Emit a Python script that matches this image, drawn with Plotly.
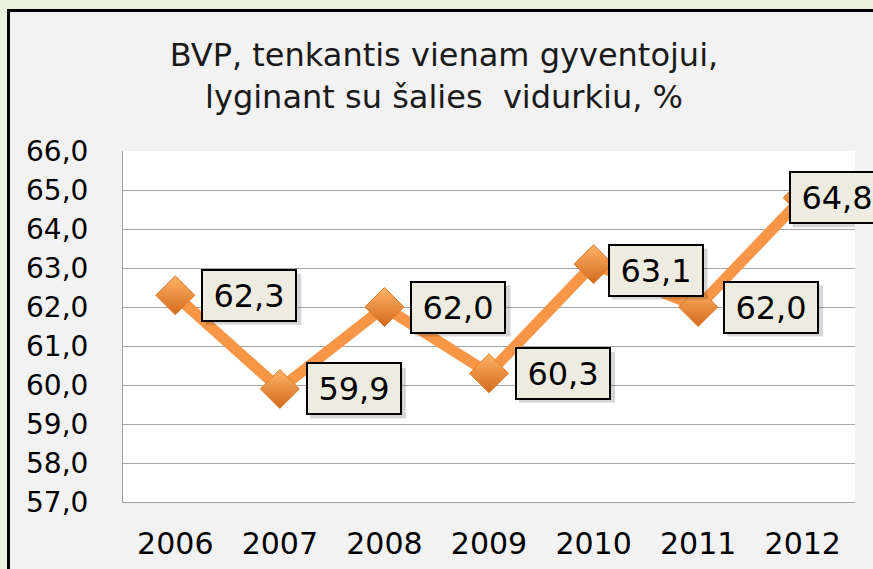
import plotly.graph_objects as go

# ---- data ----
years = ["2006", "2007", "2008", "2009", "2010", "2011", "2012"]
values = [62.3, 59.9, 62.0, 60.3, 63.1, 62.0, 64.8]
y_ticks = [57, 58, 59, 60, 61, 62, 63, 64, 65, 66]
title_lines = ["BVP, tenkantis vienam gyventojui,", "lyginant su šalies\u00a0 vidurkiu, %"]

# ---- layout geometry (pixels) ----
W, H = 873, 569
L, R, T, B = 123, 18, 151, 67
PW, PH = W - L - R, H - T - B


def px_x(x):
    return (x - L) / PW


def px_y(y):
    return 1 - (y - T) / PH


FONT = "DejaVu Sans"
ORANGE = "#F79646"

# label box offsets (style only)
label_dx = [26, 26, 26, 26, 14, 25, -14]
label_dy = [0, 0, 0, 0, -6, 0, 0]
BOX_W, BOX_H = 96, 51

xi = list(range(len(years)))

fig = go.Figure()
fig.add_trace(go.Scatter(
    x=xi, y=values, mode="lines+markers",
    line=dict(color=ORANGE, width=11),
    marker=dict(symbol="diamond", size=30, color="#FFB466",
                gradient=dict(type="vertical", color="#D2691E"),
                line=dict(color="#E07A22", width=1)),
    hoverinfo="skip", showlegend=False,
))

annotations = []
shapes = [
    # grey chart area with black frame
    dict(type="rect", xref="paper", yref="paper", layer="below",
         x0=px_x(8.5), x1=px_x(W + 20), y0=px_y(H + 20), y1=px_y(10.5),
         fillcolor="#F2F2F2", line=dict(color="#000000", width=3)),
    # white plot area
    dict(type="rect", xref="paper", yref="paper", layer="below",
         x0=0, x1=1, y0=0, y1=1, fillcolor="#FFFFFF", line=dict(width=0)),
]

for i, v in enumerate(values):
    txt = f"{v:.1f}".replace(".", ",")
    # soft shadow behind the label box (pixel-sized shape anchored on the point)
    shapes.append(dict(
        type="rect", xref="x", yref="y", layer="above",
        xsizemode="pixel", ysizemode="pixel", xanchor=i, yanchor=v,
        x0=label_dx[i] + 4, x1=label_dx[i] + 4 + BOX_W,
        y0=label_dy[i] - 4 - BOX_H / 2, y1=label_dy[i] - 4 + BOX_H / 2,
        fillcolor="rgba(0,0,0,0.16)", line=dict(width=0),
    ))
    annotations.append(dict(
        x=i, y=v, xref="x", yref="y", text=txt, showarrow=False,
        xanchor="left", yanchor="middle",
        xshift=label_dx[i], yshift=label_dy[i],
        font=dict(family=FONT, size=32, color="#000000"),
        bgcolor="#EEECE1", bordercolor="#000000", borderwidth=2,
        width=86, height=43, borderpad=3,
    ))

fig.update_layout(
    width=W, height=H,
    margin=dict(l=L, r=R, t=T, b=B, pad=0, autoexpand=False),
    paper_bgcolor="#EBF1DE", plot_bgcolor="#FFFFFF",
    separators=",.",
    title=dict(text="<br>".join(title_lines), x=444 / W, xanchor="center",
               xref="container", yref="container",
               y=1 - 66 / H, yanchor="middle",
               font=dict(family=FONT, size=32, color="#1A1A1A")),
    xaxis=dict(type="linear", range=[-0.5, len(years) - 0.5],
               tickvals=xi, ticktext=years, automargin=False,
               showgrid=False, zeroline=False,
               showline=True, linecolor="#A0A0A0", linewidth=1,
               ticks="", ticklabelstandoff=15,
               tickfont=dict(family=FONT, size=30, color="#000000")),
    yaxis=dict(range=[57, 66], tickvals=y_ticks, tickformat=".1f",
               automargin=False,
               showgrid=True, gridcolor="#A6A6A6", gridwidth=1,
               zeroline=False, showline=True, linecolor="#A0A0A0", linewidth=1,
               ticks="", ticklabelstandoff=28,
               tickfont=dict(family=FONT, size=28, color="#000000")),
    annotations=annotations, shapes=shapes,
)

fig.write_html("out.html", config={"displayModeBar": False},
               post_script="document.body.style.margin='0px';")
